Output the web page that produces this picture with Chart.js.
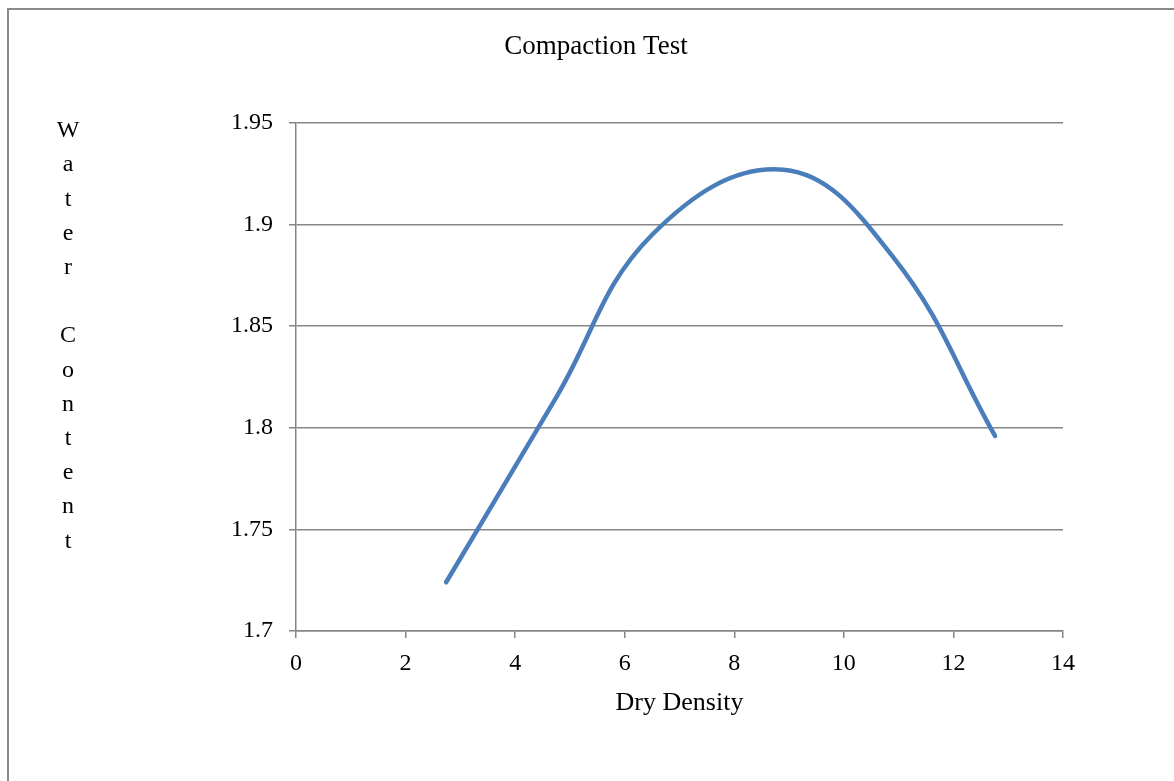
<!DOCTYPE html>
<html>
<head>
<meta charset="utf-8">
<script src="https://cdn.jsdelivr.net/npm/chart.js@4/dist/chart.umd.min.js"></script>
<style>
  html, body { margin: 0; padding: 0; background: #ffffff; }
  #wrap { width: 1174px; height: 781px; }
</style>
</head>
<body>
<div id="wrap"><canvas id="c" width="1174" height="781"></canvas></div>
<script>
// ---- data ----
const chartTitle = 'Compaction Test';
const xAxisTitle = 'Dry Density';
const yTitleLetters = ['W','a','t','e','r','','C','o','n','t','e','n','t'];
const dryDensity   = [2.74, 4.75, 6.5, 8.9, 10.9, 12.76];
const waterContent = [1.724, 1.815, 1.895, 1.927, 1.884, 1.796];
const xTickLabels = ['0','2','4','6','8','10','12','14'];
const yTickLabels = ['1.7','1.75','1.8','1.85','1.9','1.95'];

const FONT = "'Liberation Serif', 'Times New Roman', serif";
const GRID = '#868686';

const framePlugin = {
  id: 'frame',
  beforeDraw(chart) {
    const ctx = chart.ctx;
    ctx.save();
    ctx.fillStyle = '#ffffff';
    ctx.fillRect(0, 0, chart.width, chart.height);
    ctx.strokeStyle = '#8a8a8a';
    ctx.lineWidth = 2;
    ctx.beginPath();
    ctx.moveTo(8, chart.height);
    ctx.lineTo(8, 9);
    ctx.lineTo(chart.width, 9);
    ctx.stroke();
    ctx.restore();
  }
};

const textPlugin = {
  id: 'extraText',
  afterDraw(chart) {
    const ctx = chart.ctx;
    ctx.save();
    ctx.fillStyle = '#000000';
    ctx.textAlign = 'center';
    ctx.textBaseline = 'middle';
    ctx.font = '27px ' + FONT;
    ctx.fillText(chartTitle, 596, 47);
    ctx.font = '24px ' + FONT;
    yTitleLetters.forEach((ch, i) => {
      ctx.fillText(ch, 68, 131 + i * 34.2);
    });
    ctx.restore();
  }
};

new Chart(document.getElementById('c'), {
  type: 'scatter',
  data: {
    datasets: [{
      data: dryDensity.map((x, i) => ({ x: x, y: waterContent[i] })),
      showLine: true,
      borderColor: '#4a7ebb',
      borderWidth: 4.5,
      borderCapStyle: 'round',
      pointRadius: 0,
      pointHoverRadius: 0,
      tension: 0.4,
      fill: false
    }]
  },
  options: {
    responsive: false,
    devicePixelRatio: 1,
    animation: false,
    layout: { padding: { left: 0, right: 111, top: 123, bottom: 62 } },
    plugins: {
      legend: { display: false },
      tooltip: { enabled: false },
      title: { display: false }
    },
    scales: {
      x: {
        type: 'linear',
        min: 0, max: 14,
        afterFit(scale) { scale.height = 88; },
        afterBuildTicks(scale) { scale.ticks = xTickLabels.map(v => ({ value: Number(v) })); },
        ticks: {
          color: '#000000',
          font: { family: FONT, size: 24 },
          padding: 11,
          maxRotation: 0,
          callback: (v, i) => xTickLabels[i]
        },
        grid: { drawOnChartArea: false, drawTicks: true, tickLength: 7, color: GRID, lineWidth: 1.5 },
        border: { display: true, color: GRID, width: 1.5 },
        title: {
          display: true,
          text: xAxisTitle,
          color: '#000000',
          font: { family: FONT, size: 26 },
          padding: { top: 0, bottom: 0 }
        }
      },
      y: {
        type: 'linear',
        min: 1.7, max: 1.95,
        afterFit(scale) { scale.width = 296; },
        afterBuildTicks(scale) { scale.ticks = yTickLabels.map(v => ({ value: Number(v) })); },
        ticks: {
          color: '#000000',
          font: { family: FONT, size: 24 },
          padding: 16,
          callback: (v, i) => yTickLabels[i]
        },
        grid: { drawOnChartArea: true, drawTicks: true, tickLength: 7, color: GRID, lineWidth: 1.5 },
        border: { display: true, color: GRID, width: 1.5 }
      }
    }
  },
  plugins: [framePlugin, textPlugin]
});
</script>
</body>
</html>
